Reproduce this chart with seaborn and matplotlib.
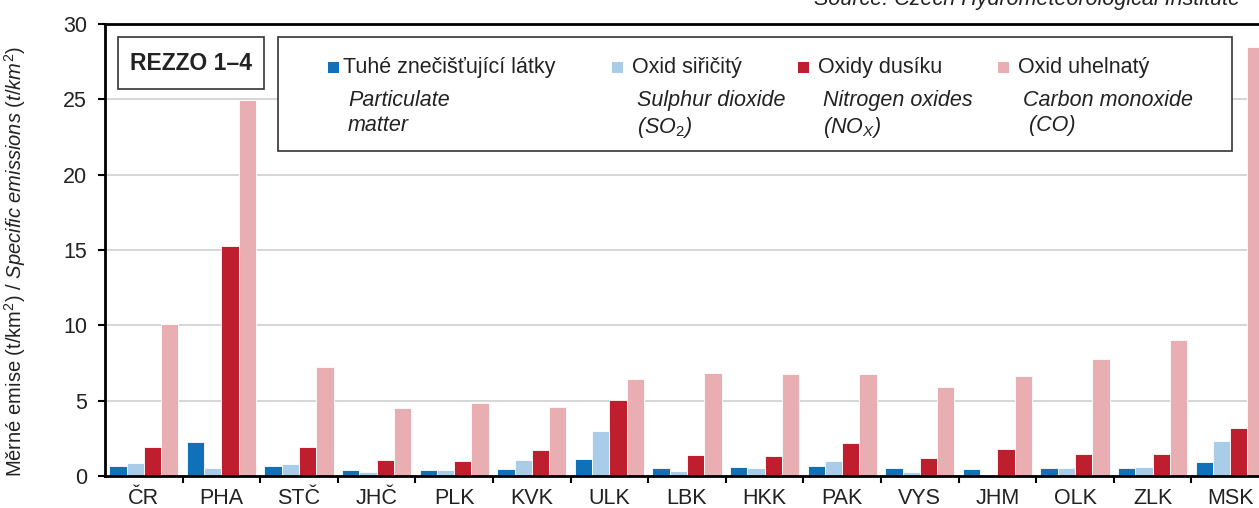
import pandas as pd
import seaborn as sns
import matplotlib.pyplot as plt
from matplotlib.patches import Rectangle

# data
regions = ['ČR', 'PHA', 'STČ', 'JHČ', 'PLK', 'KVK', 'ULK', 'LBK',
           'HKK', 'PAK', 'VYS', 'JHM', 'OLK', 'ZLK', 'MSK']
pm = [0.66, 2.25, 0.65, 0.37, 0.43, 0.46, 1.1, 0.53, 0.6, 0.64, 0.51, 0.46, 0.51, 0.53, 0.93]
so2 = [0.85, 0.53, 0.8, 0.26, 0.4, 1.05, 2.97, 0.33, 0.55, 1.02, 0.24, 0.07, 0.53, 0.6, 2.32]
nox = [1.93, 15.26, 1.9, 1.05, 0.99, 1.72, 5.05, 1.42, 1.33, 2.19, 1.19, 1.77, 1.44, 1.46, 3.21]
co = [10.09, 24.95, 7.23, 4.5, 4.85, 4.58, 6.44, 6.83, 6.77, 6.77, 5.9, 6.64, 7.76, 9.02, 28.47]

series_cz = ['Tuhé znečišťující látky', 'Oxid siřičitý', 'Oxidy dusíku', 'Oxid uhelnatý']
series_en = ['Particulate\nmatter', 'Sulphur dioxide\n(SO$_2$)',
             'Nitrogen oxides\n(NO$_X$)', 'Carbon monoxide\n (CO)']
colors = ['#1070b8', '#a9cce8', '#be1e2d', '#e8aeb2']

df = pd.DataFrame({'region': regions, series_cz[0]: pm, series_cz[1]: so2,
                   series_cz[2]: nox, series_cz[3]: co})
df = df.melt(id_vars='region', var_name='pollutant', value_name='value')

sns.set_style('white')
plt.rcParams['font.family'] = ['Liberation Sans', 'DejaVu Sans']
plt.rcParams['mathtext.fontset'] = 'custom'
plt.rcParams['mathtext.rm'] = 'Liberation Sans'
plt.rcParams['mathtext.it'] = 'Liberation Sans:italic'

FS = 15.5
TXT = '#222222'

W, H = 1259, 508
fig = plt.figure(figsize=(W / 100, H / 100), dpi=100)
# axes runs past the right edge, like the cropped original
ax = fig.add_axes([105 / W, 32 / H, (1269 - 105) / W, (476 - 24) / H])

sns.barplot(data=df, x='region', y='value', hue='pollutant', hue_order=series_cz,
            palette=colors, saturation=1, width=0.89, edgecolor='white', linewidth=0.6,
            legend=False, ax=ax, zorder=2)

ax.set_xlim(-0.5, len(regions) - 0.5)
ax.set_ylim(0, 30)
ax.set_yticks(range(0, 31, 5))
ax.yaxis.grid(True, color='#cfcfcf', linewidth=1.2, zorder=0)
ax.set_axisbelow(True)
ax.set_xlabel('')
ax.set_ylabel('Měrné emise (t/km$^2$) / $\\mathit{Specific\\ emissions\\ (t/km^2)}$',
              fontsize=14.5, color=TXT)
ax.yaxis.set_label_coords(-0.066, 0.475)

for s in ['left', 'bottom', 'top']:
    ax.spines[s].set_color('black')
    ax.spines[s].set_linewidth(2)
ax.spines['right'].set_visible(False)

ax.tick_params(axis='y', left=True, length=5, width=1.5, labelsize=FS, colors='black',
               labelcolor=TXT, pad=8)
ax.tick_params(axis='x', which='major', length=0, labelsize=FS, labelcolor=TXT, pad=9)
ax.set_xticks([i - 0.5 for i in range(1, len(regions))], minor=True)
ax.tick_params(axis='x', which='minor', bottom=True, length=5, width=1.5, colors='black')


def px(x, y):
    return x / W, 1 - y / H


# box with the inventory name
fig.patches.append(Rectangle(px(118, 89), 146 / W, 52 / H, transform=fig.transFigure,
                             facecolor='white', edgecolor='#333333', linewidth=1.2, zorder=5))
fig.text(*px(191, 63), 'REZZO 1–4', ha='center', va='center', fontsize=16.5,
         fontweight='bold', color=TXT, zorder=6)

# legend box drawn by hand
fig.patches.append(Rectangle(px(278, 151), (1232 - 278) / W, (151 - 37) / H,
                             transform=fig.transFigure, facecolor='white',
                             edgecolor='#333333', linewidth=1.2, zorder=5))
marker_x = [328, 612, 798, 998]
for i in range(4):
    mx = marker_x[i]
    fig.patches.append(Rectangle(px(mx, 73), 11 / W, 11 / H, transform=fig.transFigure,
                                 facecolor=colors[i], edgecolor='none', zorder=6))
    tx = mx + 15 if i == 0 else mx + 20
    fig.text(*px(tx, 67), series_cz[i], ha='left', va='center', fontsize=FS,
             color=TXT, zorder=6)
    fig.text(*px(tx + 5, 90), series_en[i], ha='left', va='top', fontsize=FS,
             style='italic', color=TXT, linespacing=1.25, zorder=6)

fig.text(1240 / W, 1 + 1 / H, 'Source: Czech Hydrometeorological Institute', ha='right',
         va='center', fontsize=FS, style='italic', color=TXT)

plt.savefig('out.png', dpi=100)
